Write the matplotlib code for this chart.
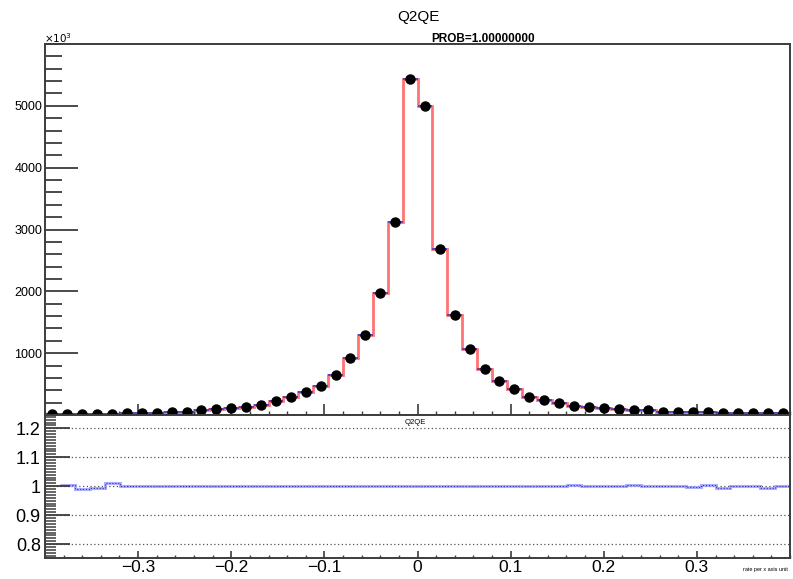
import numpy as np
import matplotlib
matplotlib.use("Agg")
import matplotlib.pyplot as plt
from matplotlib.ticker import MultipleLocator, FixedLocator

# ---- data ----
x_min, x_max, n_bins = -0.4, 0.4, 50
counts = [15, 20, 15, 15, 20, 29, 29, 29, 50, 55,
          77, 99, 120, 136, 158, 228, 288, 374, 476, 649,
          915, 1298, 1971, 3128, 5440, 5000, 2681, 1619, 1064, 741,
          547, 417, 298, 244, 196, 147, 131, 115, 94, 76,
          76, 55, 45, 45, 45, 34, 34, 34, 34, 29]
ratio = [np.nan, 1.003, 0.99, 0.995, 1.01, 1.0, 1.0, 1.0, 1.0, 1.0,
         1.002, 1.002, 1.002, 1.0, 1.0, 1.0, 1.0, 1.0, 1.0, 1.0,
         1.0, 1.0, 1.002, 1.002, 1.0, 1.0, 1.0, 1.002, 1.002, 1.002,
         1.002, 1.0, 1.0, 1.002, 1.002, 1.003, 1.0, 1.0, 1.0, 1.003,
         1.0, 1.0, 1.0, 0.997, 1.003, 0.995, 1.002, 1.0, 0.995, 1.002]
upper_yticks = [1000, 2000, 3000, 4000, 5000]
lower_yticks = [0.8, 0.9, 1.0, 1.1, 1.2]
lower_ylabels = ["0.8", "0.9", "1", "1.1", "1.2"]
xticks = [-0.3, -0.2, -0.1, 0.0, 0.1, 0.2, 0.3]
xlabels = ["\u22120.3", "\u22120.2", "\u22120.1", "0", "0.1", "0.2", "0.3"]

edges = np.linspace(x_min, x_max, n_bins + 1)
centers = 0.5 * (edges[:-1] + edges[1:])
counts = np.array(counts, dtype=float)
ratio = np.array(ratio, dtype=float)

W, H = 793, 579
fig = plt.figure(figsize=(W / 100, H / 100), dpi=100)
plt.rcParams['font.family'] = ['Liberation Sans', 'DejaVu Sans']

L, R = 45 / W, 790 / W
y_mid = 1 - 415 / H
y_top = 1 - 44 / H
y_bot = 1 - 558 / H
ax1 = fig.add_axes([L, y_mid, R - L, y_top - y_mid])
ax2 = fig.add_axes([L, y_bot, R - L, y_mid - y_bot])

spine_col = "#3c3c3c"
for ax in (ax1, ax2):
    for s in ax.spines.values():
        s.set_color(spine_col)
        s.set_linewidth(1.4)

# ---- upper panel ----
ax1.stairs(counts, edges, color="#ff5050", alpha=0.8, linewidth=2.0)
ax1.hlines(counts, edges[:-1], edges[1:], color="#3a3ad0", linewidth=1.3, alpha=0.9)
ax1.plot(centers, counts, "o", color="black", markersize=6.5, zorder=5)
ax1.set_xlim(x_min, x_max)
ax1.set_ylim(0, 6000)
ax1.yaxis.set_major_locator(FixedLocator(upper_yticks))
ax1.yaxis.set_minor_locator(MultipleLocator(200))
ax1.xaxis.set_major_locator(FixedLocator(xticks))
ax1.xaxis.set_minor_locator(MultipleLocator(0.02))
ax1.tick_params(axis="y", which="major", direction="in", length=24, width=1.3,
                color=spine_col, labelsize=9, pad=2)
ax1.tick_params(axis="y", which="minor", direction="in", length=12, width=1.3, color=spine_col)
ax1.tick_params(axis="x", which="major", direction="in", length=8, width=1.2,
                color=spine_col, labelbottom=False)
ax1.tick_params(axis="x", which="minor", direction="in", length=3, width=1.0, color=spine_col)
ax1.set_yticklabels([str(v) for v in upper_yticks])

fig.text(418 / W, 1 - 17 / H, "Q2QE", ha="center", va="center", fontsize=11)
fig.text(483 / W, 1 - 39 / H, "PROB=1.00000000", ha="center", va="center",
         fontsize=8.5, fontweight="bold")
fig.text(44 / W, 1 - 38 / H, r"$\times10^{3}$", ha="left", va="center", fontsize=7.5)

# ---- lower panel ----
ax2.stairs(ratio, edges, color="#9a9aff", alpha=0.8, linewidth=2.2, baseline=None)
ax2.stairs(ratio, edges, color="#3030c8", linewidth=0.8, linestyle=":", baseline=None)
ax2.set_xlim(x_min, x_max)
ax2.set_ylim(0.752, 1.246)
for v in lower_yticks:
    ax2.axhline(v, color="#555555", linestyle=(0, (1, 2)), linewidth=0.9, zorder=0)
ax2.yaxis.set_major_locator(FixedLocator(lower_yticks))
ax2.yaxis.set_minor_locator(MultipleLocator(0.01))
ax2.set_yticklabels(lower_ylabels)
ax2.xaxis.set_major_locator(FixedLocator(xticks))
ax2.xaxis.set_minor_locator(MultipleLocator(0.02))
ax2.set_xticklabels(xlabels)
ax2.tick_params(axis="y", which="major", direction="in", length=18, width=1.3,
                color=spine_col, labelsize=13, pad=3)
ax2.tick_params(axis="y", which="minor", direction="in", length=8, width=1.1, color=spine_col)
ax2.tick_params(axis="x", which="major", direction="in", length=5, width=1.2,
                color=spine_col, labelsize=12.5, pad=1.5)
ax2.tick_params(axis="x", which="minor", direction="in", length=2.5, width=1.0, color=spine_col)

fig.text(405 / W, 1 - 422 / H, "Q2QE", ha="left", va="center", fontsize=5.5)
fig.text(788 / W, 1 - 569 / H, "rate per x axis unit", ha="right", va="center", fontsize=4)

fig.savefig("out.png", dpi=100)
